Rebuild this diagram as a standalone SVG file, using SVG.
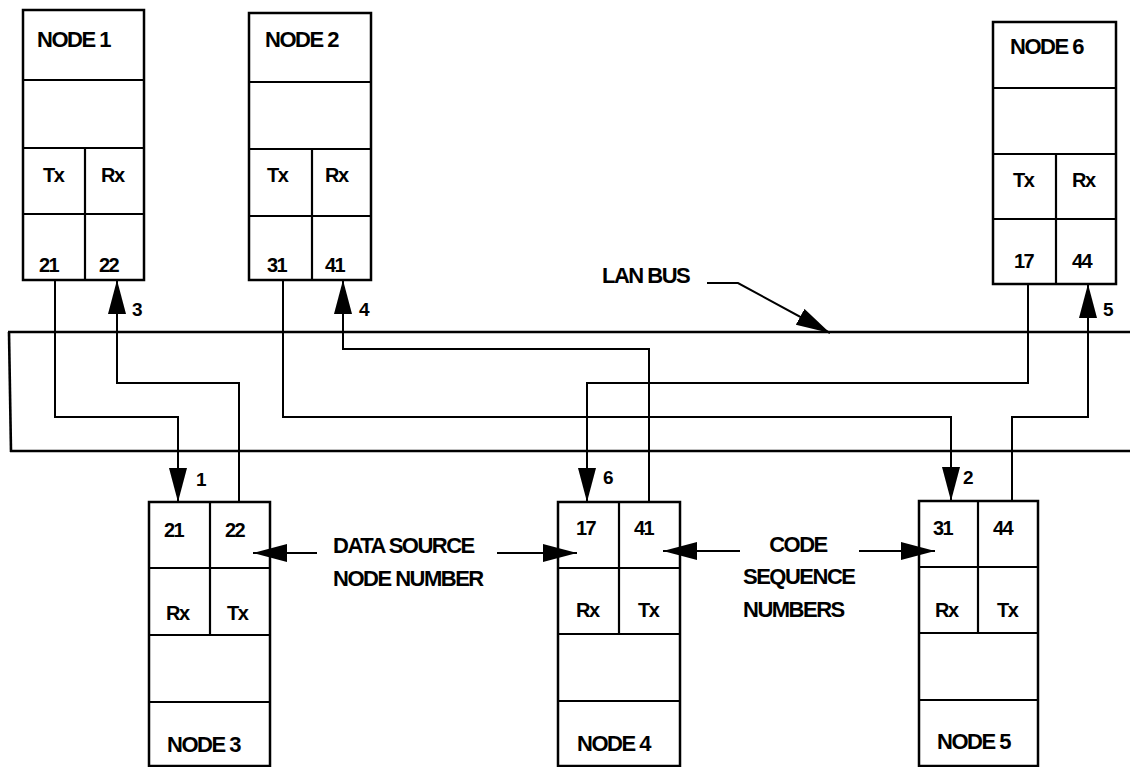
<svg xmlns="http://www.w3.org/2000/svg" width="1130" height="767" viewBox="0 0 1130 767">
<style>
.box{fill:#fff;stroke:#000;stroke-width:2.5}
.div{fill:none;stroke:#000;stroke-width:2.2}
.ln{fill:none;stroke:#000;stroke-width:2;stroke-linejoin:miter}
.bus{fill:none;stroke:#000;stroke-width:2.6}
.t{font-family:"Liberation Sans",Arial,Helvetica,sans-serif;font-weight:bold;font-size:22px;letter-spacing:-1.5px;fill:#000}
.c{font-size:20px;letter-spacing:-1.5px}
.n{font-size:19px;letter-spacing:0}
</style>
<defs>
<marker id="ah" markerUnits="userSpaceOnUse" markerWidth="36" markerHeight="20" refX="34" refY="9" orient="auto">
<path d="M0,0 L34,9 L0,18 Z" fill="#000"/>
</marker>
</defs>
<rect width="1130" height="767" fill="#fff"/>

<g id="bus">
<path class="bus" d="M8,332 H1130"/>
<path class="bus" d="M9,332 L11,452"/>
<path class="bus" d="M10,451 H1130"/>
</g>

<g id="node1">
<rect class="box" x="23" y="10" width="121" height="270"/>
<path class="div" d="M23,80 H144 M23,148 H144 M23,214 H144 M85,148 V280"/>
<text class="t" x="37" y="47">NODE 1</text>
<text class="t c" x="43" y="182">Tx</text>
<text class="t c" x="101" y="182">Rx</text>
<text class="t c" x="39" y="272">21</text>
<text class="t c" x="99" y="272">22</text>
</g>

<g id="node2">
<rect class="box" x="249" y="13" width="122" height="267"/>
<path class="div" d="M249,82 H371 M249,149 H371 M249,216 H371 M312,149 V280"/>
<text class="t" x="265" y="47">NODE 2</text>
<text class="t c" x="267" y="182">Tx</text>
<text class="t c" x="325" y="182">Rx</text>
<text class="t c" x="267" y="272">31</text>
<text class="t c" x="325" y="272">41</text>
</g>

<g id="node6">
<rect class="box" x="993" y="22" width="123" height="262"/>
<path class="div" d="M993,88 H1116 M993,154 H1116 M993,219 H1116 M1056,154 V284"/>
<text class="t" x="1010" y="54">NODE 6</text>
<text class="t c" x="1013" y="187">Tx</text>
<text class="t c" x="1072" y="187">Rx</text>
<text class="t c" x="1014" y="268">17</text>
<text class="t c" x="1072" y="268">44</text>
</g>

<g id="node3">
<rect class="box" x="149" y="502" width="121" height="264"/>
<path class="div" d="M149,568 H270 M149,635 H270 M149,702 H270 M210,502 V635"/>
<text class="t c" x="164" y="537">21</text>
<text class="t c" x="225" y="537">22</text>
<text class="t c" x="166" y="620">Rx</text>
<text class="t c" x="227" y="620">Tx</text>
<text class="t" x="167" y="752">NODE 3</text>
</g>

<g id="node4">
<rect class="box" x="558" y="502" width="122" height="264"/>
<path class="div" d="M558,568 H680 M558,634 H680 M558,701 H680 M619,502 V634"/>
<text class="t c" x="576" y="535">17</text>
<text class="t c" x="634" y="535">41</text>
<text class="t c" x="576" y="617">Rx</text>
<text class="t c" x="638" y="617">Tx</text>
<text class="t" x="577" y="751">NODE 4</text>
</g>

<g id="node5">
<rect class="box" x="919" y="501" width="119" height="265"/>
<path class="div" d="M919,567 H1038 M919,633 H1038 M919,700 H1038 M978,501 V633"/>
<text class="t c" x="933" y="535">31</text>
<text class="t c" x="993" y="535">44</text>
<text class="t c" x="935" y="617">Rx</text>
<text class="t c" x="997" y="617">Tx</text>
<text class="t" x="937" y="749">NODE 5</text>
</g>

<g id="connectors">
<path class="ln" d="M55,280 V417 H178 V502" marker-end="url(#ah)"/>
<path class="ln" d="M239,502 V383 H117 V280" marker-end="url(#ah)"/>
<path class="ln" d="M283,280 V417 H951 V501" marker-end="url(#ah)"/>
<path class="ln" d="M649,502 V349 H343 V280" marker-end="url(#ah)"/>
<path class="ln" d="M1028,284 V383 H587 V502" marker-end="url(#ah)"/>
<path class="ln" d="M1012,501 V417 H1088 V284" marker-end="url(#ah)"/>
<path class="ln" d="M707,283 H738 L830,333" marker-end="url(#ah)"/>
<path class="ln" d="M317,553 H253" marker-end="url(#ah)"/>
<path class="ln" d="M497,553 H577" marker-end="url(#ah)"/>
<path class="ln" d="M740,551 H663" marker-end="url(#ah)"/>
<path class="ln" d="M859,551 H935" marker-end="url(#ah)"/>
</g>

<g id="labels">
<text class="t n" x="196" y="486">1</text>
<text class="t n" x="963" y="484">2</text>
<text class="t n" x="132" y="316">3</text>
<text class="t n" x="359" y="316">4</text>
<text class="t n" x="1103" y="316">5</text>
<text class="t n" x="603" y="484">6</text>
<text class="t" x="602" y="283">LAN BUS</text>
<text class="t" x="333" y="553">DATA SOURCE</text>
<text class="t" x="333" y="586">NODE NUMBER</text>
<text class="t" x="798" y="552" text-anchor="middle">CODE</text>
<text class="t" x="743" y="584">SEQUENCE</text>
<text class="t" x="743" y="617">NUMBERS</text>
</g>
</svg>
